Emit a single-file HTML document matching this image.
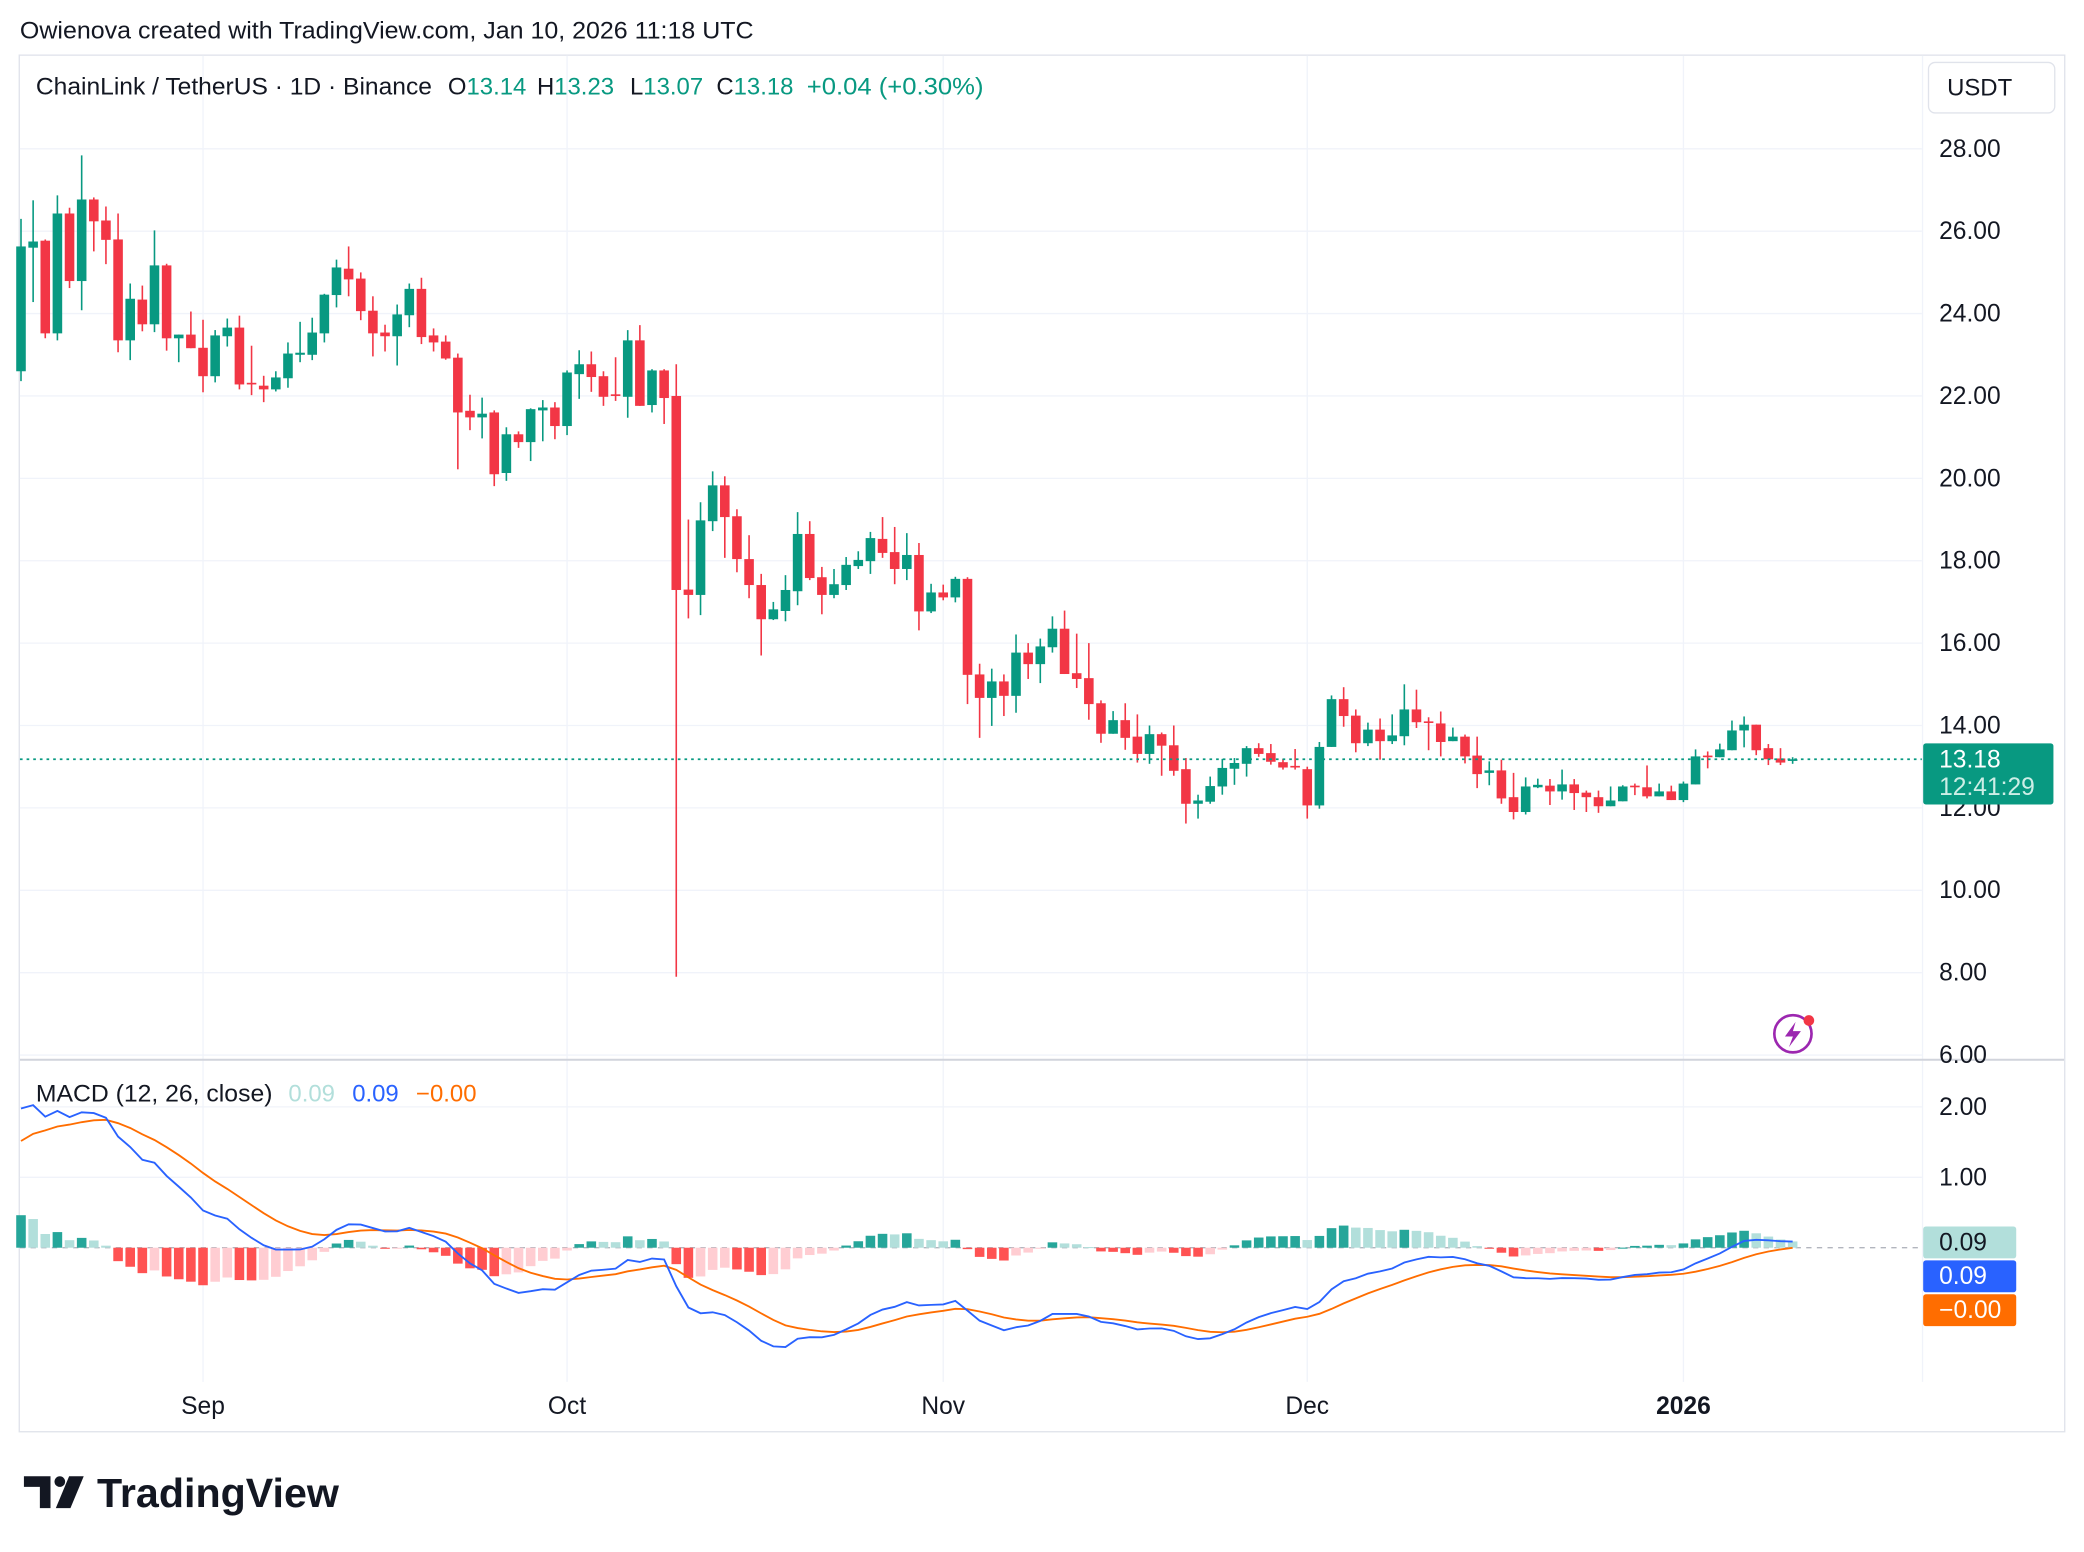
<!DOCTYPE html>
<html><head><meta charset="utf-8">
<style>
html,body{margin:0;padding:0;background:#fff;}
svg{display:block;font-family:"Liberation Sans",Arial,sans-serif;}
</style></head>
<body>
<svg id="chart" width="2084" height="1552" viewBox="0 0 1568 1168" preserveAspectRatio="none" xmlns="http://www.w3.org/2000/svg">
<rect x="0" y="0" width="1568" height="1168" fill="#fff"/>
<text x="15" y="29" font-size="18" fill="#131722" textLength="552" lengthAdjust="spacingAndGlyphs">Owienova created with TradingView.com, Jan 10, 2026 11:18 UTC</text>
<rect x="14.5" y="41.5" width="1539" height="1036" fill="none" stroke="#e0e3eb"/>
<g id="grid"></g>
<line x1="15" y1="797.5" x2="1553" y2="797.5" stroke="#d1d4dc" stroke-width="1.5"/>
<g id="candles"></g>
<g id="macd"></g>
<line id="lastline" x1="15" x2="1446" stroke="#089981" stroke-width="1.3" stroke-dasharray="2,3"/>
<g id="axis"></g>
<g font-size="18">
<text x="27" y="71" fill="#131722" textLength="298" lengthAdjust="spacingAndGlyphs">ChainLink / TetherUS · 1D · Binance</text>
<text x="337" y="71" fill="#131722">O<tspan fill="#089981">13.14</tspan></text>
<text x="404" y="71" fill="#131722">H<tspan fill="#089981">13.23</tspan></text>
<text x="474" y="71" fill="#131722">L<tspan fill="#089981">13.07</tspan></text>
<text x="539" y="71" fill="#131722">C<tspan fill="#089981">13.18</tspan></text>
<text x="607" y="71" fill="#089981" textLength="133" lengthAdjust="spacingAndGlyphs">+0.04 (+0.30%)</text>
</g>
<g><rect x="1451" y="47" width="95" height="38" rx="5" fill="#fff" stroke="#e0e3eb"/><text x="1465" y="72" font-size="18" fill="#131722">USDT</text></g>
<g font-size="18">
<text x="27" y="829" fill="#131722" textLength="178" lengthAdjust="spacingAndGlyphs">MACD (12, 26, close)</text>
<text x="217" y="829" fill="#b2dfdb">0.09</text>
<text x="265" y="829" fill="#2962ff">0.09</text>
<text x="313" y="829" fill="#ff6d00">−0.00</text>
</g>
<g><circle cx="1349" cy="778" r="14" fill="none" stroke="#9c27b0" stroke-width="2"/><path d="M1351 769 L1343 780 L1349 780 L1346 788 L1355 776 L1349 776 Z" fill="#9c27b0"/><circle cx="1361" cy="768" r="4" fill="#f23645"/></g>
<g><path d="M18 1111 H38 V1135 H30 V1119 H18 Z" fill="#131722"/><circle cx="45" cy="1115" r="4" fill="#131722"/><path d="M52 1111 H63 L53 1135 H42 Z" fill="#131722"/><text x="73" y="1134" font-size="31" font-weight="bold" fill="#131722">TradingView</text></g>
</svg>
<script>
const opens=[22.6,25.6,25.77,23.52,26.43,24.79,26.77,26.26,25.8,23.35,24.34,23.74,25.17,23.4,23.49,23.17,22.48,23.45,23.66,22.32,22.25,22.16,22.43,23.0,23.0,23.52,24.45,25.09,24.85,24.07,23.54,23.45,23.96,24.6,23.47,23.32,22.93,21.64,21.48,21.6,20.13,21.07,20.88,21.65,21.72,21.27,22.53,22.77,22.48,22.04,21.98,23.35,21.78,22.62,22.0,17.3,17.17,18.96,19.83,19.08,18.04,17.41,16.58,16.78,17.26,18.65,17.6,17.17,17.41,17.87,17.99,18.53,18.21,17.8,18.14,16.77,17.23,17.11,17.56,15.24,14.67,15.07,14.72,15.77,15.49,15.9,16.35,15.27,15.15,14.54,13.8,14.13,13.73,13.31,13.79,13.52,12.94,12.1,12.15,12.52,12.95,13.07,13.45,13.33,13.11,13.02,12.94,12.06,13.48,14.64,14.24,13.57,13.9,13.62,13.74,14.39,14.1,14.05,13.62,13.73,13.27,12.85,12.91,12.26,11.9,12.5,12.54,12.4,12.57,12.37,12.26,12.04,12.16,12.54,12.5,12.28,12.4,12.19,12.57,13.27,13.23,13.4,13.88,14.02,13.45,13.2,13.14];
const highs=[26.3,26.75,25.8,26.87,26.57,27.84,26.82,26.6,26.43,24.73,24.68,26.02,25.21,23.49,24.05,23.85,23.6,23.88,23.95,23.22,22.49,22.6,23.3,23.8,23.9,24.48,25.31,25.63,25.0,24.42,23.73,24.22,24.73,24.87,23.64,23.47,23.03,22.03,21.96,21.65,21.24,21.14,21.7,21.9,21.85,22.62,23.11,23.08,22.6,22.94,23.6,23.72,22.65,22.65,22.77,19.0,19.42,20.17,20.05,19.25,18.62,17.68,17.0,17.65,19.18,18.96,17.85,17.8,18.09,18.23,18.7,19.06,18.82,18.67,18.43,17.44,17.42,17.61,17.6,15.5,15.38,15.24,16.21,16.0,16.11,16.65,16.79,16.23,16.0,14.61,14.35,14.54,14.27,14.0,13.83,14.0,13.21,12.32,12.76,13.19,13.21,13.5,13.57,13.55,13.19,13.43,13.0,13.6,14.73,14.93,14.39,14.07,14.17,14.27,15.0,14.87,14.2,14.34,13.95,13.78,13.73,13.13,13.17,12.85,12.74,12.71,12.7,12.93,12.7,12.42,12.42,12.52,12.55,12.59,13.03,12.59,12.54,12.64,13.42,13.37,13.56,14.12,14.22,14.02,13.55,13.45,13.23];
const lows=[22.36,24.28,23.4,23.35,24.62,24.08,25.51,25.2,23.06,22.87,23.57,23.55,23.1,22.82,23.16,22.09,22.33,23.2,22.16,22.02,21.85,22.11,22.2,22.82,22.87,23.3,24.15,24.42,23.84,22.96,23.08,22.74,23.67,23.26,23.08,22.88,20.22,21.17,20.97,19.81,19.94,20.74,20.42,20.9,20.95,21.05,21.93,22.1,21.76,21.88,21.47,21.76,21.6,21.32,7.9,16.6,16.68,18.72,18.07,17.72,17.09,15.7,16.56,16.53,16.92,17.53,16.7,17.09,17.29,17.8,17.68,18.07,17.43,17.53,16.31,16.73,17.04,16.99,14.52,13.7,13.99,14.23,14.31,15.13,15.03,15.77,15.25,14.91,14.14,13.58,13.8,13.41,13.1,13.07,12.78,12.78,11.62,11.74,12.1,12.32,12.56,12.76,13.24,13.05,12.93,12.93,11.74,11.98,13.48,13.97,13.35,13.5,13.17,13.55,13.52,13.94,13.4,13.25,13.62,13.08,12.48,12.55,12.1,11.72,11.84,12.48,12.07,12.2,11.95,11.9,11.88,12.04,12.16,12.31,12.23,12.28,12.19,12.14,12.57,12.96,13.23,13.4,13.47,13.28,13.04,13.04,13.07];
const closes=[25.63,25.75,23.52,26.43,24.79,26.77,26.24,25.79,23.35,24.36,23.74,25.17,23.4,23.49,23.16,22.48,23.47,23.66,22.28,22.28,22.16,22.45,23.03,23.05,23.54,24.46,25.12,24.83,24.06,23.52,23.45,23.98,24.6,23.43,23.3,22.91,21.6,21.48,21.57,20.1,21.07,20.88,21.68,21.72,21.27,22.57,22.77,22.46,21.98,22.0,23.35,21.76,22.62,21.95,17.29,17.17,18.98,19.83,19.06,18.04,17.41,16.58,16.82,17.29,18.65,17.58,17.17,17.43,17.9,18.02,18.55,18.19,17.8,18.14,16.77,17.23,17.11,17.56,15.23,14.67,15.07,14.72,15.77,15.49,15.92,16.35,15.25,15.13,14.52,13.8,14.13,13.7,13.31,13.79,13.51,12.9,12.1,12.18,12.53,12.97,13.09,13.45,13.31,13.12,12.98,12.98,12.06,13.48,14.64,14.23,13.57,13.9,13.62,13.76,14.39,14.08,14.07,13.6,13.73,13.25,12.82,12.91,12.23,11.9,12.52,12.56,12.4,12.57,12.36,12.26,12.04,12.18,12.52,12.5,12.28,12.4,12.19,12.59,13.25,13.23,13.42,13.88,14.02,13.4,13.18,13.1,13.18];
const priceTicks=[28,26,24,22,20,18,16,14,12,10,8,6];
const macdTicks=[2,1];
const monthLabels=["Sep","Oct","Nov","Dec","2026"];
const monthIndex=[15,45,76,106,137];
const ema12Seed=22.9, ema26Seed=21.0, signalSeed=1.4;
const lastPrice=13.18;

const NS="http://www.w3.org/2000/svg";
function mk(tag,attrs,parent){const e=document.createElementNS(NS,tag);for(const k in attrs)e.setAttribute(k,attrs[k]);parent.appendChild(e);return e;}
const xOf=i=>15.8+i*9.13;
const yP=p=>112+(28-p)*31;
const yM=v=>939-v*53;
const grid=document.getElementById('grid'),cg=document.getElementById('candles'),mg=document.getElementById('macd'),ax=document.getElementById('axis');

priceTicks.forEach(p=>{
  const l=mk('line',{x1:15,x2:1446,y1:yP(p),y2:yP(p),stroke:'#f0f3fa','stroke-width':1},grid);
  
  
  const t=mk('text',{x:1459,y:yP(p)+6,'font-size':18.5,fill:'#131722'},ax);
  t.textContent=p.toFixed(2);
  
  
});
macdTicks.forEach(v=>{
  const l=mk('line',{x1:15,x2:1446,y1:yM(v),y2:yM(v),stroke:'#f0f3fa'},grid);
  
  
  const t=mk('text',{x:1459,y:yM(v)+6,'font-size':18.5,fill:'#131722'},ax);
  t.textContent=v.toFixed(2);
  
  
});
{const t=mk('text',{x:1459,y:yM(-1)+6,'font-size':18.5,fill:'#131722'},ax);t.textContent='−1.00';

}
monthLabels.forEach((m,k)=>{
  const x=xOf(monthIndex[k]);
  const l=mk('line',{x1:x,x2:x,y1:42,y2:1040,stroke:'#f0f3fa'},grid);
  
  
  const t=mk('text',{x:x,y:1064,'font-size':18.5,fill:'#131722','text-anchor':'middle','font-weight':m==='2026'?'bold':'normal'},ax);
  t.textContent=m;
  
  
});
mk('line',{x1:1446.5,x2:1446.5,y1:42,y2:1040,stroke:'#f0f3fa'},grid);

closes.forEach((c,i)=>{
  const o=opens[i],up=c>=o,col=up?'#089981':'#f23645',x=xOf(i);
  const g=mk('g',{},cg);
  
  
  mk('line',{x1:x,x2:x,y1:yP(highs[i]),y2:yP(lows[i]),stroke:col,'stroke-width':1.2},g);
  const t=yP(Math.max(o,c)),b=yP(Math.min(o,c));
  mk('rect',{x:x-3.6,y:t,width:7.2,height:Math.max(1.2,b-t),fill:col},g);
});

// MACD computed from closes
const k12=2/13,k26=2/27,k9=2/10;
let e12=ema12Seed,e26=ema26Seed,sig=signalSeed;
const macdV=[],sigV=[],histV=[];
closes.forEach(c=>{e12+=(c-e12)*k12;e26+=(c-e26)*k26;const m=e12-e26;sig+=(m-sig)*k9;macdV.push(m);sigV.push(sig);histV.push(m-sig);});
const zl=mk('line',{x1:15,x2:1446,y1:yM(0),y2:yM(0),stroke:'#b2b5be','stroke-dasharray':'4,4'},mg);


histV.forEach((h,i)=>{
  const prev=i>0?histV[i-1]:h;
  let col;
  if(h>=0)col=h>=prev?'#26a69a':'#b2dfdb';else col=h<=prev?'#ff5252':'#ffcdd2';
  const y0=yM(0),y1=yM(h);
  const r=mk('rect',{x:xOf(i)-3.6,y:Math.min(y0,y1),width:7.2,height:Math.max(0.8,Math.abs(y1-y0)),fill:col},mg);
  
  
});
function poly(arr,col,name){const p=mk('polyline',{points:arr.map((v,i)=>xOf(i)+','+yM(v)).join(' '),fill:'none',stroke:col,'stroke-width':1.4},mg);

}
poly(sigV,'#ff6d00','signal-line');
poly(macdV,'#2962ff','macd-line');

const ll=document.getElementById('lastline');ll.setAttribute('y1',yP(lastPrice));ll.setAttribute('y2',yP(lastPrice));
const lb=mk('g',{},ax);


mk('rect',{x:1447,y:yP(lastPrice)-12,width:98,height:46,rx:2,fill:'#089981'},lb);
const t1=mk('text',{x:1459,y:yP(lastPrice)+6,'font-size':18.5,fill:'#fff'},lb);t1.textContent=lastPrice.toFixed(2);
const t2=mk('text',{x:1459,y:yP(lastPrice)+27,'font-size':18.5,fill:'#cdeee6'},lb);t2.textContent='12:41:29';

const labs=[[histV[histV.length-1],'#b2dfdb','#131722','histogram-value-label'],[macdV[macdV.length-1],'#2962ff','#fff','macd-value-label'],[sigV[sigV.length-1],'#ff6d00','#fff','signal-value-label']];
labs.forEach((L,k)=>{
  const g=mk('g',{},ax);
  
  
  const y=923+k*25.5;
  mk('rect',{x:1447,y:y,width:70,height:24,rx:2,fill:L[1]},g);
  const t=mk('text',{x:1459,y:y+18,'font-size':18.5,fill:L[2]},g);
  const v=Math.abs(L[0])<0.005?(k===2?'−0.00':'0.00'):(L[0]<0?'−':'')+Math.abs(L[0]).toFixed(2);
  t.textContent=v;
});
</script>
</body></html>
